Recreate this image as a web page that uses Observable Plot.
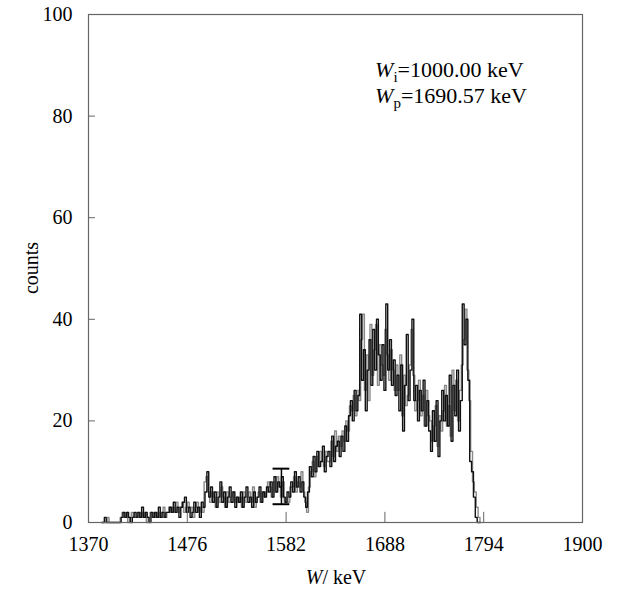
<!DOCTYPE html>
<html><head><meta charset="utf-8">
<script src="https://cdn.jsdelivr.net/npm/d3@7"></script>
<script src="https://cdn.jsdelivr.net/npm/@observablehq/plot@0.6"></script>
<style>
body{margin:0;background:#fff}
svg{font-family:"Liberation Serif","Times New Roman",serif}
</style>
</head><body><div id="chart"></div>
<script>
// Spectrum A (dark trace): counts per 2 keV bin starting at 1384 keV
const binStartA = 1384;
const binWidth = 2;
const countsA = [
  0,0,1,0, 0,0,0,0,0,0,0, 1,
  2,1,2,1,0,1,2,
  1,2,1,3,1,2,1,0,2,1,
  2,1,3,1,2,1,2,2,
  3,2,4,2,3,1,3,4,5,2,
  3,1,2,4,2,3,1,4,3,
  6,10,5,7,
  4,6,3,5,8,4,6,3,5,7,4,6,3,5,
  4,6,3,5,7,4,5,3,6,4,5,7,4,6,5,7,
  6,8,5,9,6,8,7,9,
  5,4,6,5,
  8,6,10,7,9,6,8,5,3,6,
  11,9,13,10,14,11,12,15,10,13,
  14,11,17,12,15,16,
  13,17,14,19,16,21,
  24,20,26,22,25,
  41,28,34,
  22,30,36,27,
  38,30,40,33,28,
  35,26,43,
  30,36,27,32,25,
  29,22,31,18,27,37,24,30,
  40,24,
  27,20,26,22,28,19,24,
  18,14,22,16,24,13,20,
  26,20,25,
  19,29,16,27,21,30,18,24,
  43,35,40,28,
  12,10,5,
  1,0,0
];
// Spectrum B (grey trace): counts per 2 keV bin starting at 1385 keV
const binStartB = 1385;
const countsB = [
  0,0,0,1, 0,0,0,0,0,0,1, 2,
  1,2,0,1,2,1,1,
  2,1,2,1,2,0,1,2,1,2,
  1,2,1,2,3,1,2,3,
  2,3,2,4,2,3,4,2,3,4,
  2,3,1,3,4,2,3,2,8,
  9,6,4,6,
  5,3,6,4,7,5,3,6,4,5,6,4,5,4,
  5,3,6,4,5,6,4,7,3,5,6,4,6,5,6,8,
  7,5,8,6,9,7,5,8,
  4,5,4,7,
  7,9,6,8,7,10,6,4,2,7,
  10,12,9,13,11,14,12,11,14,12,
  12,16,13,18,14,17,
  15,18,16,20,18,23,
  22,25,21,26,24,
  36,41,26,
  33,24,39,29,
  34,39,27,35,31,
  29,38,33,
  28,34,30,26,31,
  26,33,21,29,23,25,31,38,
  29,22,
  24,28,21,25,19,26,21,
  20,16,19,23,15,21,18,
  22,27,19,
  23,17,30,22,28,20,26,31,
  36,42,30,24,
  14,8,6,
  3,1,0
];
const xTicks = [1370,1476,1582,1688,1794,1900];
const yTicks = [0,20,40,60,80,100];
const errEnergy = 1577, errLow = 3.6, errHigh = 10.6, errCapLeft = 1568, errCapRight = 1586;
const annoLines = [
  {sym:"W", sub:"i", rest:"=1000.00 keV"},
  {sym:"W", sub:"p", rest:"=1690.57 keV"}
];
const annoEnergy = 1678, annoCounts = [87.6, 82.4];

const dataA = countsA.map((c,i)=>({energy: binStartA + i*binWidth, count: c}));
const dataB = countsB.map((c,i)=>({energy: binStartB + i*binWidth, count: c}));
const axisColor = "#666";
const FS = 20;
const FA = 22;

const plot = Plot.plot({
  width: 620, height: 591,
  marginLeft: 88, marginRight: 38, marginTop: 14, marginBottom: 69,
  style: {fontFamily: "Liberation Serif, serif", fontSize: FS + "px", color: "#000", background: "#fff"},
  x: {domain: [1370, 1900], ticks: xTicks, tickSize: 0, tickPadding: 14, label: null, tickFormat: d => String(d)},
  y: {domain: [0, 100], ticks: yTicks, tickSize: 0, tickPadding: 16, label: null},
  marks: [
    Plot.line(dataB, {x: "energy", y: "count", curve: "step", stroke: "#8a8a8a", strokeWidth: 1.4}),
    Plot.line(dataA, {x: "energy", y: "count", curve: "step", stroke: "#111", strokeWidth: 1.4}),
    Plot.ruleX([errEnergy], {x: d => d, y1: errLow, y2: errHigh, stroke: "#000", strokeWidth: 1.5}),
    Plot.ruleY([errLow, errHigh], {y: d => d, x1: errCapLeft, x2: errCapRight, stroke: "#000", strokeWidth: 2}),
    Plot.ruleX(xTicks.slice(1, -1), {x: d => d, y1: 0, y2: 2, stroke: axisColor}),
    Plot.ruleY(yTicks.slice(1, -1), {y: d => d, x1: 1370, x2: 1377.5, stroke: axisColor}),
    Plot.frame({stroke: axisColor, strokeWidth: 1.2})
  ]
});

const svg = d3.select(plot);
const sx = plot.scale("x"), sy = plot.scale("y");
annoLines.forEach((l, i) => {
  const t = svg.append("text")
    .attr("x", sx.apply(annoEnergy)).attr("y", sy.apply(annoCounts[i]))
    .attr("text-anchor", "start")
    .attr("font-size", FA).attr("fill", "#000");
  t.append("tspan").attr("font-style", "italic").text(l.sym);
  t.append("tspan").attr("font-size", 15).attr("dy", 5).text(l.sub);
  t.append("tspan").attr("dy", -5).text(l.rest);
});
// x-axis label
const xl = svg.append("text").attr("x", 336).attr("y", 584).attr("text-anchor", "middle").attr("font-size", FS);
xl.append("tspan").attr("font-style", "italic").text("W");
xl.append("tspan").text("/ keV");
// y-axis label
svg.append("text").attr("transform", "translate(38,268) rotate(-90)").attr("text-anchor", "middle").attr("font-size", FS).text("counts");

document.getElementById("chart").append(plot);
</script>
</body></html>
